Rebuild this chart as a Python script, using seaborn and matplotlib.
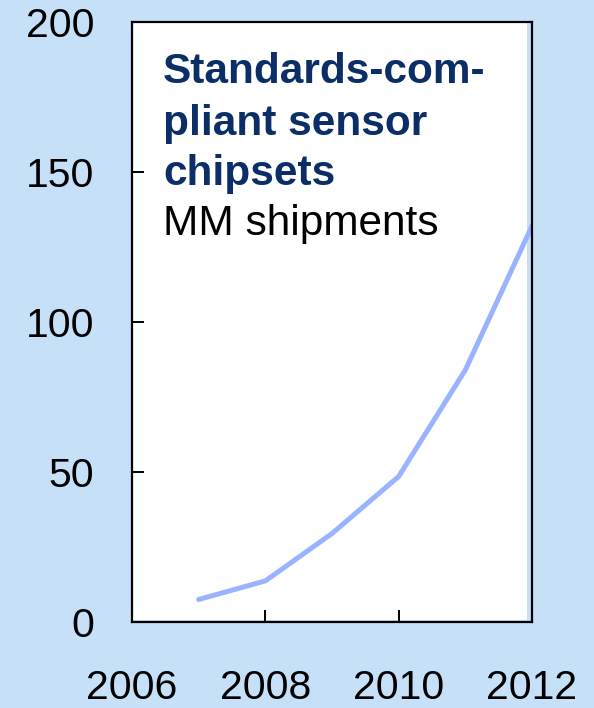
import matplotlib
matplotlib.use("Agg")
import matplotlib.pyplot as plt
from matplotlib.patches import Rectangle
import seaborn as sns
import pandas as pd

years = [2007, 2008, 2009, 2010, 2011, 2012]
shipments = [7.5, 13.7, 29.5, 48.5, 84, 132]
x_ticks = [2006, 2008, 2010, 2012]
y_ticks = [0, 50, 100, 150, 200]
title_lines = ["Standards-com-", "pliant sensor", "chipsets"]
subtitle = "MM shipments"

sns.set_theme(style="white")
plt.rcParams['font.family'] = ['Liberation Sans', 'DejaVu Sans']

bg = "#c6e0f8"
fig = plt.figure(figsize=(5.94, 7.08), dpi=100, facecolor=bg)
ax = fig.add_axes([132/594, 86/708, 400/594, 600/708])
ax.set_facecolor(bg)
ax.add_patch(Rectangle((0, 0.004), 0.988, 0.996, transform=ax.transAxes,
                       facecolor="white", edgecolor="none", zorder=0))

df = pd.DataFrame({"year": years, "value": shipments})
sns.lineplot(data=df, x="year", y="value", ax=ax, color="#99b3ff", linewidth=3.6, zorder=2)

ax.set_xlim(2006, 2012)
ax.set_ylim(0, 200)
ax.set_xticks(x_ticks)
ax.set_yticks(y_ticks)
ax.set_xlabel("")
ax.set_ylabel("")
for s in ax.spines.values():
    s.set_visible(True)
    s.set_color("black")
    s.set_linewidth(1.6)
    s.set_zorder(3)
ax.tick_params(axis="both", direction="in", length=8.5, width=1.4, colors="black",
               labelsize=29.5, labelcolor="black")
ax.tick_params(axis="x", pad=34)
ax.tick_params(axis="y", pad=27)
ax.tick_params(left=True, bottom=True)

tx = 0.0775
ys = [0.898, 0.812, 0.728]
for line, yy in zip(title_lines, ys):
    ax.text(tx, yy, line, transform=ax.transAxes, fontsize=30.5, fontweight="bold",
            color="#0b2e66", va="baseline", ha="left", zorder=4)
ax.text(tx, 0.645, subtitle, transform=ax.transAxes, fontsize=30.5, color="black",
        va="baseline", ha="left", zorder=4)

fig.savefig("out.png", dpi=100, facecolor=bg)
